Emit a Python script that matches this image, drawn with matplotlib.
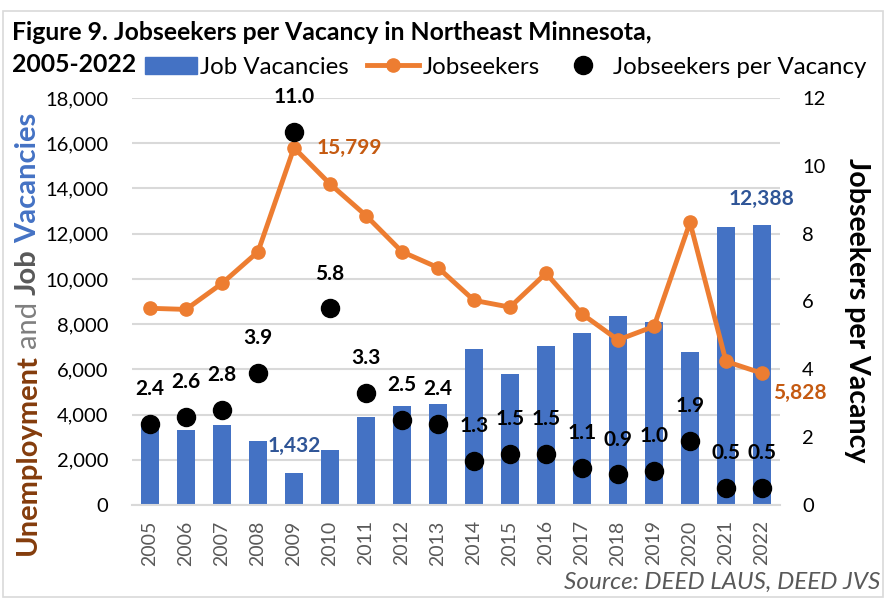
import matplotlib
matplotlib.use("Agg")
import matplotlib.pyplot as plt
from matplotlib.lines import Line2D
from matplotlib.patches import Patch, Rectangle
import numpy as np

plt.rcParams['font.family'] = ['Lato', 'DejaVu Sans']

years = [str(y) for y in range(2005, 2023)]
vacancies = [3600, 3300, 3550, 2850, 1432, 2450, 3900, 4400, 4450, 6900,
             5800, 7050, 7600, 8350, 8100, 6750, 12300, 12388]
jobseekers = [8700, 8650, 9800, 11200, 15799, 14200, 12800, 11200, 10500, 9050,
              8750, 10250, 8450, 7300, 7900, 12500, 6350, 5828]
ratio = [2.4, 2.6, 2.8, 3.9, 11.0, 5.8, 3.3, 2.5, 2.4, 1.3,
         1.5, 1.5, 1.1, 0.9, 1.0, 1.9, 0.5, 0.5]
left_ticks = [0, 2000, 4000, 6000, 8000, 10000, 12000, 14000, 16000, 18000]
right_ticks = [0, 2, 4, 6, 8, 10, 12]

BLUE = '#4472C4'
ORANGE = '#ED7D31'
W, H = 886, 600
fig = plt.figure(figsize=(W / 100, H / 100), dpi=100)
fig.patches.append(Rectangle((3 / W, 3 / H), 880 / W, 586 / H, transform=fig.transFigure,
                             fill=False, edgecolor='#D9D9D9', linewidth=1.2))

ax = fig.add_axes([132 / W, 1 - 505 / H, 648 / W, 407 / H])
x = np.arange(len(years))
ax.bar(x, vacancies, width=0.5, color=BLUE, zorder=2)
ax.plot(x, jobseekers, color=ORANGE, linewidth=3.5, marker='o', markersize=9.5, zorder=3)
ax.set_xlim(-0.5, len(years) - 0.5)
ax.set_ylim(0, 18000)
ax.set_yticks(left_ticks)
ax.set_yticklabels([f'{v:,}' for v in left_ticks], fontsize=14.5)
ax.set_xticks(x)
ax.set_xticklabels(years, rotation=90, fontsize=14, color='#595959')
ax.tick_params(axis='y', length=0, pad=17)
ax.tick_params(axis='x', length=0, pad=11)
ax.grid(axis='y', color='#D9D9D9', linewidth=1.5, zorder=0)
ax.set_axisbelow(True)
for s in ['top', 'right', 'left']:
    ax.spines[s].set_visible(False)
ax.spines['bottom'].set_color('#D9D9D9')
ax.spines['bottom'].set_linewidth(1.5)

ax2 = ax.twinx()
ax2.plot(x, ratio, linestyle='none', marker='o', markersize=13, color='black', zorder=5)
ax2.set_ylim(0, 12)
ax2.set_yticks(right_ticks)
ax2.set_yticklabels([str(v) for v in right_ticks], fontsize=14.5)
ax2.tick_params(length=0, pad=16)
for s in ['top', 'right', 'left', 'bottom']:
    ax2.spines[s].set_visible(False)

for xi, r in zip(x, ratio):
    ax2.annotate(f'{r:.1f}', (xi, r), xytext=(0, 25), textcoords='offset points',
                 ha='center', va='center', fontsize=15, fontweight='bold', color='black')

ax.annotate(f'{jobseekers[4]:,}', (4, jobseekers[4]), xytext=(16, 0), textcoords='offset points',
            ha='left', va='center', fontsize=15, fontweight='bold', color='#C55A11')
ax.annotate(f'{jobseekers[-1]:,}', (17, jobseekers[-1]), xytext=(8, -14), textcoords='offset points',
            ha='left', va='center', fontsize=15, fontweight='bold', color='#C55A11')
ax.annotate(f'{vacancies[4]:,}', (4, vacancies[4]), xytext=(0, 19), textcoords='offset points',
            ha='center', va='center', fontsize=15, fontweight='bold', color='#2F5597')
ax.annotate(f'{vacancies[-1]:,}', (17, vacancies[-1]), xytext=(0, 19), textcoords='offset points',
            ha='center', va='center', fontsize=15, fontweight='bold', color='#2F5597')

fig.text(12 / W, 1 - 32 / H, 'Figure 9. Jobseekers per Vacancy in Northeast Minnesota,',
         fontsize=17.8, fontweight='bold', va='center', ha='left')
fig.text(12 / W, 1 - 64 / H, '2005-2022', fontsize=17.8, fontweight='bold', va='center', ha='left')

handles = [Patch(color=BLUE),
           Line2D([0], [0], color=ORANGE, linewidth=3.5, marker='o', markersize=9.5),
           Line2D([0], [0], color='black', linestyle='none', marker='o', markersize=13)]
labels = ['Job Vacancies', 'Jobseekers', 'Jobseekers per Vacancy']
fig.legend(handles, labels, loc='center left', bbox_to_anchor=(145 / W, 1 - 67 / H), ncol=3,
           frameon=False, fontsize=17.3, handlelength=2.15, handletextpad=0.15, columnspacing=0.75,
           borderaxespad=0, borderpad=0)

fig.text(1 - 6 / W, 1 - 582 / H, 'Source: DEED LAUS, DEED JVS', ha='right', va='center',
         fontsize=17.5, style='italic', color='#595959')

fig.text(857 / W, 1 - 310 / H, 'Jobseekers per Vacancy', rotation=270, ha='center', va='center',
         fontsize=20.5, fontweight='bold')

fig.canvas.draw()
rend = fig.canvas.get_renderer()
parts = [('Unemployment', '#843C0C', 'bold'), ('and', '#7F7F7F', 'normal'),
         ('Job', '#595959', 'bold'), ('Vacancies', BLUE, 'bold')]
ypix = 45
for s, c, w in parts:
    t = fig.text(28 / W, ypix / H, s, rotation=90, ha='center', va='bottom', fontsize=21,
                 fontweight=w, color=c)
    bb = t.get_window_extent(rend)
    ypix += bb.height + 6

fig.savefig('out.png', dpi=100)
